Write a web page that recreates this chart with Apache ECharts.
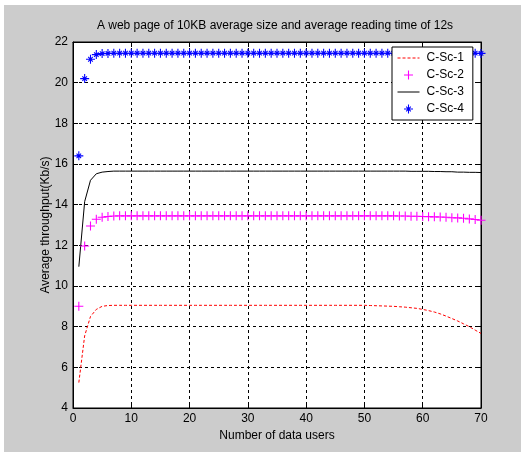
<!DOCTYPE html>
<html>
<head>
<meta charset="utf-8">
<script src="https://cdn.jsdelivr.net/npm/echarts@6/dist/echarts.min.js"></script>
<style>
html,body{margin:0;padding:0;background:#fff;}
#bg{position:absolute;left:4px;top:5px;width:517px;height:447px;background:#cccccc;}
#chart{position:absolute;left:0;top:0;width:521px;height:452px;}
</style>
</head>
<body>
<div id="bg"></div>
<div id="chart"></div>
<script>
var users = [1,2,3,4,5,6,7,8,9,10,11,12,13,14,15,16,17,18,19,20,21,22,23,24,25,26,27,28,29,30,31,32,33,34,35,36,37,38,39,40,41,42,43,44,45,46,47,48,49,50,51,52,53,54,55,56,57,58,59,60,61,62,63,64,65,66,67,68,69,70];
var cSc1 = [5.25,7.55,8.5,8.85,9.0,9.04,9.05,9.05,9.05,9.05,9.05,9.05,9.05,9.05,9.05,9.05,9.05,9.05,9.05,9.05,9.05,9.05,9.05,9.05,9.05,9.05,9.05,9.05,9.05,9.05,9.05,9.05,9.05,9.05,9.05,9.05,9.05,9.05,9.05,9.05,9.05,9.05,9.05,9.05,9.05,9.05,9.05,9.05,9.05,9.05,9.04,9.03,9.02,9.01,9.0,8.98,8.96,8.93,8.9,8.85,8.79,8.72,8.63,8.52,8.4,8.28,8.14,8.0,7.83,7.67];
var cSc2 = [9.0,11.97,12.95,13.28,13.38,13.42,13.44,13.45,13.45,13.45,13.45,13.45,13.45,13.45,13.45,13.45,13.45,13.45,13.45,13.45,13.45,13.45,13.45,13.45,13.45,13.45,13.45,13.45,13.45,13.45,13.45,13.45,13.45,13.45,13.45,13.45,13.45,13.45,13.45,13.45,13.45,13.45,13.45,13.45,13.45,13.45,13.45,13.45,13.45,13.45,13.45,13.45,13.45,13.45,13.45,13.44,13.44,13.43,13.43,13.42,13.41,13.4,13.39,13.38,13.36,13.35,13.33,13.3,13.27,13.23];
var cSc3 = [10.95,14.15,15.2,15.52,15.6,15.63,15.65,15.65,15.65,15.65,15.65,15.65,15.65,15.65,15.65,15.65,15.65,15.65,15.65,15.65,15.65,15.65,15.65,15.65,15.65,15.65,15.65,15.65,15.65,15.65,15.65,15.65,15.65,15.65,15.65,15.65,15.65,15.65,15.65,15.65,15.65,15.65,15.65,15.65,15.65,15.65,15.65,15.65,15.65,15.65,15.65,15.65,15.65,15.65,15.65,15.65,15.65,15.64,15.64,15.64,15.64,15.63,15.63,15.62,15.62,15.6,15.6,15.59,15.59,15.58];
var cSc4 = [16.4,20.2,21.15,21.38,21.43,21.44,21.45,21.45,21.45,21.45,21.45,21.45,21.45,21.45,21.45,21.45,21.45,21.45,21.45,21.45,21.45,21.45,21.45,21.45,21.45,21.45,21.45,21.45,21.45,21.45,21.45,21.45,21.45,21.45,21.45,21.45,21.45,21.45,21.45,21.45,21.45,21.45,21.45,21.45,21.45,21.45,21.45,21.45,21.45,21.45,21.45,21.45,21.45,21.45,21.45,21.45,21.45,21.45,21.45,21.45,21.45,21.45,21.45,21.45,21.45,21.45,21.45,21.45,21.45,21.44];
var seriesNames = ['C-Sc-1','C-Sc-2','C-Sc-3','C-Sc-4'];
var xTicks = [0,10,20,30,40,50,60,70];
var yTicks = [4,6,8,10,12,14,16,18,20,22];
var titleText = 'A web page of 10KB average size and average reading time of 12s';
var xName = 'Number of data users';
var yName = 'Average throughput(Kb/s)';

function pairs(xs, ys){ return xs.map(function(x,i){ return [x, ys[i]]; }); }

var FONT = "'Liberation Sans',Arial,sans-serif";
var FS = 12;
var plusPath = 'path://M4.4,0 H5.6 V10 H4.4 Z M0,4.4 H10 V5.6 H0 Z';
var starPath = 'path://M4.4,0 H5.6 V10 H4.4 Z M0,4.4 H10 V5.6 H0 Z ' +
  'M2.87,2.03 L7.97,7.13 L7.13,7.97 L2.03,2.87 Z ' +
  'M2.03,7.13 L7.13,2.03 L7.97,2.87 L2.87,7.97 Z';
var hidden = {color:'rgba(0,0,0,0)', borderColor:'rgba(0,0,0,0)', borderWidth:0};

var chart = echarts.init(document.getElementById('chart'), null, {renderer:'canvas'});
var gridLine = {show:true, lineStyle:{color:'#000', width:1, type:[3,3]}};
var option = {
  animation:false,
  textStyle:{fontFamily:FONT},
  title:{text:titleText, left:275, textAlign:'center', top:20, padding:0,
    textStyle:{fontFamily:FONT, fontSize:FS, fontWeight:'normal', color:'#000'}},
  grid:{left:73, top:42, width:408, height:366, show:true, backgroundColor:'#fff', borderColor:'#000', borderWidth:1, containLabel:false},
  legend:{
    data:[
      {name:seriesNames[0], itemStyle:hidden, lineStyle:{width:1}},
      {name:seriesNames[1]},
      {name:seriesNames[2], itemStyle:hidden, lineStyle:{width:1}},
      {name:seriesNames[3]}
    ],
    orient:'vertical', left:392, top:47,
    backgroundColor:'#fff', borderColor:'#000', borderWidth:1,
    padding:[5,9,5,5], itemWidth:22, itemHeight:9, itemGap:5,
    lineStyle:{width:1},
    textStyle:{fontFamily:FONT, fontSize:FS, color:'#000', padding:[0,0,0,2]}
  },
  xAxis:[{
    type:'value', min:0, max:70, interval:10, position:'bottom',
    name:xName, nameLocation:'middle', nameGap:22, nameMoveOverlap:false,
    nameTextStyle:{fontFamily:FONT, fontSize:FS, color:'#000'},
    axisLine:{show:true, onZero:false, lineStyle:{color:'#000'}},
    axisTick:{show:true, inside:true, length:5, lineStyle:{color:'#000'}},
    axisLabel:{show:true, margin:5, color:'#000', fontSize:FS, fontFamily:FONT},
    splitLine:gridLine
  },{
    type:'value', min:0, max:70, interval:10, position:'top',
    axisLine:{show:true, onZero:false, lineStyle:{color:'#000'}},
    axisTick:{show:true, inside:true, length:5, lineStyle:{color:'#000'}},
    axisLabel:{show:false}, splitLine:{show:false}
  }],
  yAxis:[{
    type:'value', min:4, max:22, interval:2, position:'left',
    name:yName, nameLocation:'middle', nameGap:21, nameRotate:90, nameMoveOverlap:false,
    nameTextStyle:{fontFamily:FONT, fontSize:FS, color:'#000'},
    axisLine:{show:true, onZero:false, lineStyle:{color:'#000'}},
    axisTick:{show:true, inside:true, length:5, lineStyle:{color:'#000'}},
    axisLabel:{show:true, margin:5, color:'#000', fontSize:FS, fontFamily:FONT},
    splitLine:gridLine
  },{
    type:'value', min:4, max:22, interval:2, position:'right',
    axisLine:{show:true, onZero:false, lineStyle:{color:'#000'}},
    axisTick:{show:true, inside:true, length:5, lineStyle:{color:'#000'}},
    axisLabel:{show:false}, splitLine:{show:false}
  }],
  series:[
    {name:seriesNames[0], type:'line', data:pairs(users,cSc1), showSymbol:false, symbol:'none',
     itemStyle:{color:'#ff0000'}, lineStyle:{color:'#ff0000', width:1, type:[3,2]}, z:3},
    {name:seriesNames[1], type:'scatter', data:pairs(users,cSc2), symbol:plusPath, symbolSize:9, clip:false,
     itemStyle:{color:'#ff00ff', opacity:1}, z:3},
    {name:seriesNames[2], type:'line', data:pairs(users,cSc3), showSymbol:false, symbol:'none',
     itemStyle:{color:'#000'}, lineStyle:{color:'#000', width:1}, z:3},
    {name:seriesNames[3], type:'scatter', data:pairs(users,cSc4), symbol:starPath, symbolSize:9, clip:false,
     itemStyle:{color:'#0000ff', opacity:1}, z:3}
  ]
};
chart.setOption(option);
</script>
</body>
</html>
